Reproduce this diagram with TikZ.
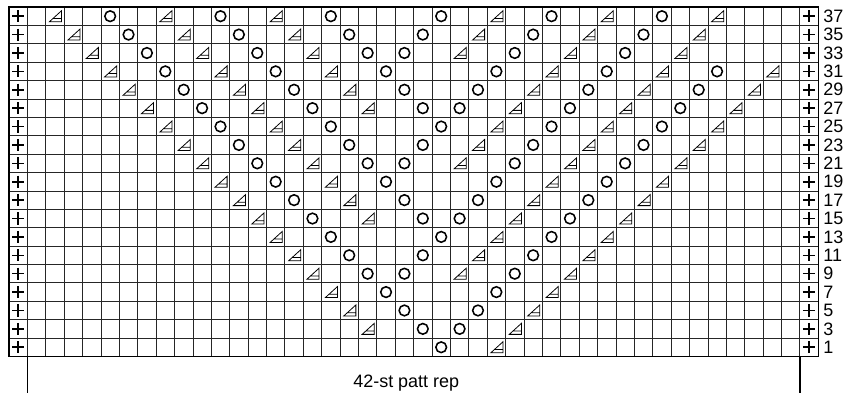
\documentclass[tikz,border=0pt]{standalone}
\usepackage{fontspec}
\setmainfont{Liberation Sans}
\usepackage{xcolor}
\usepackage{tikz}

\begin{document}
\begin{tikzpicture}[x=0.5cm,y=-0.5cm,font=\fontsize{13.9}{16}\selectfont,
  grid/.style={black!85,line width=0.6pt},
  frame/.style={black,line width=1.1pt},
  edge/.style={black,line width=1.2pt},
  yo/.style={black,line width=1.2pt},
  dec/.style={black,line width=0.6pt,line join=miter},
  num/.style={anchor=west,inner sep=0pt}]
\useasboundingbox (-0.489,-0.381) rectangle (45.89,21.04);
\draw[grid] (1,0) -- (1,19);
\draw[grid] (2,0) -- (2,19);
\draw[grid] (3,0) -- (3,19);
\draw[grid] (4,0) -- (4,19);
\draw[grid] (5,0) -- (5,19);
\draw[grid] (6,0) -- (6,19);
\draw[grid] (7,0) -- (7,19);
\draw[grid] (8,0) -- (8,19);
\draw[grid] (9,0) -- (9,19);
\draw[grid] (10,0) -- (10,19);
\draw[grid] (11,0) -- (11,19);
\draw[grid] (12,0) -- (12,19);
\draw[grid] (13,0) -- (13,19);
\draw[grid] (14,0) -- (14,19);
\draw[grid] (15,0) -- (15,19);
\draw[grid] (16,0) -- (16,19);
\draw[grid] (17,0) -- (17,19);
\draw[grid] (18,0) -- (18,19);
\draw[grid] (19,0) -- (19,19);
\draw[grid] (20,0) -- (20,19);
\draw[grid] (21,0) -- (21,19);
\draw[grid] (22,0) -- (22,19);
\draw[grid] (23,0) -- (23,19);
\draw[grid] (24,0) -- (24,19);
\draw[grid] (25,0) -- (25,19);
\draw[grid] (26,0) -- (26,19);
\draw[grid] (27,0) -- (27,19);
\draw[grid] (28,0) -- (28,19);
\draw[grid] (29,0) -- (29,19);
\draw[grid] (30,0) -- (30,19);
\draw[grid] (31,0) -- (31,19);
\draw[grid] (32,0) -- (32,19);
\draw[grid] (33,0) -- (33,19);
\draw[grid] (34,0) -- (34,19);
\draw[grid] (35,0) -- (35,19);
\draw[grid] (36,0) -- (36,19);
\draw[grid] (37,0) -- (37,19);
\draw[grid] (38,0) -- (38,19);
\draw[grid] (39,0) -- (39,19);
\draw[grid] (40,0) -- (40,19);
\draw[grid] (41,0) -- (41,19);
\draw[grid] (42,0) -- (42,19);
\draw[grid] (43,0) -- (43,19);
\draw[grid] (0,1) -- (44,1);
\draw[grid] (0,2) -- (44,2);
\draw[grid] (0,3) -- (44,3);
\draw[grid] (0,4) -- (44,4);
\draw[grid] (0,5) -- (44,5);
\draw[grid] (0,6) -- (44,6);
\draw[grid] (0,7) -- (44,7);
\draw[grid] (0,8) -- (44,8);
\draw[grid] (0,9) -- (44,9);
\draw[grid] (0,10) -- (44,10);
\draw[grid] (0,11) -- (44,11);
\draw[grid] (0,12) -- (44,12);
\draw[grid] (0,13) -- (44,13);
\draw[grid] (0,14) -- (44,14);
\draw[grid] (0,15) -- (44,15);
\draw[grid] (0,16) -- (44,16);
\draw[grid] (0,17) -- (44,17);
\draw[grid] (0,18) -- (44,18);
\draw[frame] (0,0) rectangle (44,19);
\draw[edge] (0.17,0.5) -- (0.83,0.5) (0.5,0.17) -- (0.5,0.83) (43.17,0.5) -- (43.83,0.5) (43.5,0.17) -- (43.5,0.83);
\draw[edge] (0.17,1.5) -- (0.83,1.5) (0.5,1.17) -- (0.5,1.83) (43.17,1.5) -- (43.83,1.5) (43.5,1.17) -- (43.5,1.83);
\draw[edge] (0.17,2.5) -- (0.83,2.5) (0.5,2.17) -- (0.5,2.83) (43.17,2.5) -- (43.83,2.5) (43.5,2.17) -- (43.5,2.83);
\draw[edge] (0.17,3.5) -- (0.83,3.5) (0.5,3.17) -- (0.5,3.83) (43.17,3.5) -- (43.83,3.5) (43.5,3.17) -- (43.5,3.83);
\draw[edge] (0.17,4.5) -- (0.83,4.5) (0.5,4.17) -- (0.5,4.83) (43.17,4.5) -- (43.83,4.5) (43.5,4.17) -- (43.5,4.83);
\draw[edge] (0.17,5.5) -- (0.83,5.5) (0.5,5.17) -- (0.5,5.83) (43.17,5.5) -- (43.83,5.5) (43.5,5.17) -- (43.5,5.83);
\draw[edge] (0.17,6.5) -- (0.83,6.5) (0.5,6.17) -- (0.5,6.83) (43.17,6.5) -- (43.83,6.5) (43.5,6.17) -- (43.5,6.83);
\draw[edge] (0.17,7.5) -- (0.83,7.5) (0.5,7.17) -- (0.5,7.83) (43.17,7.5) -- (43.83,7.5) (43.5,7.17) -- (43.5,7.83);
\draw[edge] (0.17,8.5) -- (0.83,8.5) (0.5,8.17) -- (0.5,8.83) (43.17,8.5) -- (43.83,8.5) (43.5,8.17) -- (43.5,8.83);
\draw[edge] (0.17,9.5) -- (0.83,9.5) (0.5,9.17) -- (0.5,9.83) (43.17,9.5) -- (43.83,9.5) (43.5,9.17) -- (43.5,9.83);
\draw[edge] (0.17,10.5) -- (0.83,10.5) (0.5,10.17) -- (0.5,10.83) (43.17,10.5) -- (43.83,10.5) (43.5,10.17) -- (43.5,10.83);
\draw[edge] (0.17,11.5) -- (0.83,11.5) (0.5,11.17) -- (0.5,11.83) (43.17,11.5) -- (43.83,11.5) (43.5,11.17) -- (43.5,11.83);
\draw[edge] (0.17,12.5) -- (0.83,12.5) (0.5,12.17) -- (0.5,12.83) (43.17,12.5) -- (43.83,12.5) (43.5,12.17) -- (43.5,12.83);
\draw[edge] (0.17,13.5) -- (0.83,13.5) (0.5,13.17) -- (0.5,13.83) (43.17,13.5) -- (43.83,13.5) (43.5,13.17) -- (43.5,13.83);
\draw[edge] (0.17,14.5) -- (0.83,14.5) (0.5,14.17) -- (0.5,14.83) (43.17,14.5) -- (43.83,14.5) (43.5,14.17) -- (43.5,14.83);
\draw[edge] (0.17,15.5) -- (0.83,15.5) (0.5,15.17) -- (0.5,15.83) (43.17,15.5) -- (43.83,15.5) (43.5,15.17) -- (43.5,15.83);
\draw[edge] (0.17,16.5) -- (0.83,16.5) (0.5,16.17) -- (0.5,16.83) (43.17,16.5) -- (43.83,16.5) (43.5,16.17) -- (43.5,16.83);
\draw[edge] (0.17,17.5) -- (0.83,17.5) (0.5,17.17) -- (0.5,17.83) (43.17,17.5) -- (43.83,17.5) (43.5,17.17) -- (43.5,17.83);
\draw[edge] (0.17,18.5) -- (0.83,18.5) (0.5,18.17) -- (0.5,18.83) (43.17,18.5) -- (43.83,18.5) (43.5,18.17) -- (43.5,18.83);
\draw[yo] (5.5,0.5) circle (1.45mm) (11.5,0.5) circle (1.45mm) (17.5,0.5) circle (1.45mm) (23.5,0.5) circle (1.45mm) (29.5,0.5) circle (1.45mm) (35.5,0.5) circle (1.45mm);
\draw[yo] (6.5,1.5) circle (1.45mm) (12.5,1.5) circle (1.45mm) (18.5,1.5) circle (1.45mm) (22.5,1.5) circle (1.45mm) (28.5,1.5) circle (1.45mm) (34.5,1.5) circle (1.45mm);
\draw[yo] (7.5,2.5) circle (1.45mm) (13.5,2.5) circle (1.45mm) (19.5,2.5) circle (1.45mm) (21.5,2.5) circle (1.45mm) (27.5,2.5) circle (1.45mm) (33.5,2.5) circle (1.45mm);
\draw[yo] (8.5,3.5) circle (1.45mm) (14.5,3.5) circle (1.45mm) (20.5,3.5) circle (1.45mm) (26.5,3.5) circle (1.45mm) (32.5,3.5) circle (1.45mm) (38.5,3.5) circle (1.45mm);
\draw[yo] (9.5,4.5) circle (1.45mm) (15.5,4.5) circle (1.45mm) (21.5,4.5) circle (1.45mm) (25.5,4.5) circle (1.45mm) (31.5,4.5) circle (1.45mm) (37.5,4.5) circle (1.45mm);
\draw[yo] (10.5,5.5) circle (1.45mm) (16.5,5.5) circle (1.45mm) (22.5,5.5) circle (1.45mm) (24.5,5.5) circle (1.45mm) (30.5,5.5) circle (1.45mm) (36.5,5.5) circle (1.45mm);
\draw[yo] (11.5,6.5) circle (1.45mm) (17.5,6.5) circle (1.45mm) (23.5,6.5) circle (1.45mm) (29.5,6.5) circle (1.45mm) (35.5,6.5) circle (1.45mm);
\draw[yo] (12.5,7.5) circle (1.45mm) (18.5,7.5) circle (1.45mm) (22.5,7.5) circle (1.45mm) (28.5,7.5) circle (1.45mm) (34.5,7.5) circle (1.45mm);
\draw[yo] (13.5,8.5) circle (1.45mm) (19.5,8.5) circle (1.45mm) (21.5,8.5) circle (1.45mm) (27.5,8.5) circle (1.45mm) (33.5,8.5) circle (1.45mm);
\draw[yo] (14.5,9.5) circle (1.45mm) (20.5,9.5) circle (1.45mm) (26.5,9.5) circle (1.45mm) (32.5,9.5) circle (1.45mm);
\draw[yo] (15.5,10.5) circle (1.45mm) (21.5,10.5) circle (1.45mm) (25.5,10.5) circle (1.45mm) (31.5,10.5) circle (1.45mm);
\draw[yo] (16.5,11.5) circle (1.45mm) (22.5,11.5) circle (1.45mm) (24.5,11.5) circle (1.45mm) (30.5,11.5) circle (1.45mm);
\draw[yo] (17.5,12.5) circle (1.45mm) (23.5,12.5) circle (1.45mm) (29.5,12.5) circle (1.45mm);
\draw[yo] (18.5,13.5) circle (1.45mm) (22.5,13.5) circle (1.45mm) (28.5,13.5) circle (1.45mm);
\draw[yo] (19.5,14.5) circle (1.45mm) (21.5,14.5) circle (1.45mm) (27.5,14.5) circle (1.45mm);
\draw[yo] (20.5,15.5) circle (1.45mm) (26.5,15.5) circle (1.45mm);
\draw[yo] (21.5,16.5) circle (1.45mm) (25.5,16.5) circle (1.45mm);
\draw[yo] (22.5,17.5) circle (1.45mm) (24.5,17.5) circle (1.45mm);
\draw[yo] (23.5,18.5) circle (1.45mm);
\draw[dec,shift={(2,0)}] (0.2,0.8) -- (0.86,0.8) -- (0.86,0.2) -- cycle (0.4,0.62) -- (0.86,0.62);
\draw[dec,shift={(8,0)}] (0.2,0.8) -- (0.86,0.8) -- (0.86,0.2) -- cycle (0.4,0.62) -- (0.86,0.62);
\draw[dec,shift={(14,0)}] (0.2,0.8) -- (0.86,0.8) -- (0.86,0.2) -- cycle (0.4,0.62) -- (0.86,0.62);
\draw[dec,shift={(26,0)}] (0.2,0.8) -- (0.86,0.8) -- (0.86,0.2) -- cycle (0.4,0.62) -- (0.86,0.62);
\draw[dec,shift={(32,0)}] (0.2,0.8) -- (0.86,0.8) -- (0.86,0.2) -- cycle (0.4,0.62) -- (0.86,0.62);
\draw[dec,shift={(38,0)}] (0.2,0.8) -- (0.86,0.8) -- (0.86,0.2) -- cycle (0.4,0.62) -- (0.86,0.62);
\draw[dec,shift={(3,1)}] (0.2,0.8) -- (0.86,0.8) -- (0.86,0.2) -- cycle (0.4,0.62) -- (0.86,0.62);
\draw[dec,shift={(9,1)}] (0.2,0.8) -- (0.86,0.8) -- (0.86,0.2) -- cycle (0.4,0.62) -- (0.86,0.62);
\draw[dec,shift={(15,1)}] (0.2,0.8) -- (0.86,0.8) -- (0.86,0.2) -- cycle (0.4,0.62) -- (0.86,0.62);
\draw[dec,shift={(25,1)}] (0.2,0.8) -- (0.86,0.8) -- (0.86,0.2) -- cycle (0.4,0.62) -- (0.86,0.62);
\draw[dec,shift={(31,1)}] (0.2,0.8) -- (0.86,0.8) -- (0.86,0.2) -- cycle (0.4,0.62) -- (0.86,0.62);
\draw[dec,shift={(37,1)}] (0.2,0.8) -- (0.86,0.8) -- (0.86,0.2) -- cycle (0.4,0.62) -- (0.86,0.62);
\draw[dec,shift={(4,2)}] (0.2,0.8) -- (0.86,0.8) -- (0.86,0.2) -- cycle (0.4,0.62) -- (0.86,0.62);
\draw[dec,shift={(10,2)}] (0.2,0.8) -- (0.86,0.8) -- (0.86,0.2) -- cycle (0.4,0.62) -- (0.86,0.62);
\draw[dec,shift={(16,2)}] (0.2,0.8) -- (0.86,0.8) -- (0.86,0.2) -- cycle (0.4,0.62) -- (0.86,0.62);
\draw[dec,shift={(24,2)}] (0.2,0.8) -- (0.86,0.8) -- (0.86,0.2) -- cycle (0.4,0.62) -- (0.86,0.62);
\draw[dec,shift={(30,2)}] (0.2,0.8) -- (0.86,0.8) -- (0.86,0.2) -- cycle (0.4,0.62) -- (0.86,0.62);
\draw[dec,shift={(36,2)}] (0.2,0.8) -- (0.86,0.8) -- (0.86,0.2) -- cycle (0.4,0.62) -- (0.86,0.62);
\draw[dec,shift={(5,3)}] (0.2,0.8) -- (0.86,0.8) -- (0.86,0.2) -- cycle (0.4,0.62) -- (0.86,0.62);
\draw[dec,shift={(11,3)}] (0.2,0.8) -- (0.86,0.8) -- (0.86,0.2) -- cycle (0.4,0.62) -- (0.86,0.62);
\draw[dec,shift={(17,3)}] (0.2,0.8) -- (0.86,0.8) -- (0.86,0.2) -- cycle (0.4,0.62) -- (0.86,0.62);
\draw[dec,shift={(29,3)}] (0.2,0.8) -- (0.86,0.8) -- (0.86,0.2) -- cycle (0.4,0.62) -- (0.86,0.62);
\draw[dec,shift={(35,3)}] (0.2,0.8) -- (0.86,0.8) -- (0.86,0.2) -- cycle (0.4,0.62) -- (0.86,0.62);
\draw[dec,shift={(41,3)}] (0.2,0.8) -- (0.86,0.8) -- (0.86,0.2) -- cycle (0.4,0.62) -- (0.86,0.62);
\draw[dec,shift={(6,4)}] (0.2,0.8) -- (0.86,0.8) -- (0.86,0.2) -- cycle (0.4,0.62) -- (0.86,0.62);
\draw[dec,shift={(12,4)}] (0.2,0.8) -- (0.86,0.8) -- (0.86,0.2) -- cycle (0.4,0.62) -- (0.86,0.62);
\draw[dec,shift={(18,4)}] (0.2,0.8) -- (0.86,0.8) -- (0.86,0.2) -- cycle (0.4,0.62) -- (0.86,0.62);
\draw[dec,shift={(28,4)}] (0.2,0.8) -- (0.86,0.8) -- (0.86,0.2) -- cycle (0.4,0.62) -- (0.86,0.62);
\draw[dec,shift={(34,4)}] (0.2,0.8) -- (0.86,0.8) -- (0.86,0.2) -- cycle (0.4,0.62) -- (0.86,0.62);
\draw[dec,shift={(40,4)}] (0.2,0.8) -- (0.86,0.8) -- (0.86,0.2) -- cycle (0.4,0.62) -- (0.86,0.62);
\draw[dec,shift={(7,5)}] (0.2,0.8) -- (0.86,0.8) -- (0.86,0.2) -- cycle (0.4,0.62) -- (0.86,0.62);
\draw[dec,shift={(13,5)}] (0.2,0.8) -- (0.86,0.8) -- (0.86,0.2) -- cycle (0.4,0.62) -- (0.86,0.62);
\draw[dec,shift={(19,5)}] (0.2,0.8) -- (0.86,0.8) -- (0.86,0.2) -- cycle (0.4,0.62) -- (0.86,0.62);
\draw[dec,shift={(27,5)}] (0.2,0.8) -- (0.86,0.8) -- (0.86,0.2) -- cycle (0.4,0.62) -- (0.86,0.62);
\draw[dec,shift={(33,5)}] (0.2,0.8) -- (0.86,0.8) -- (0.86,0.2) -- cycle (0.4,0.62) -- (0.86,0.62);
\draw[dec,shift={(39,5)}] (0.2,0.8) -- (0.86,0.8) -- (0.86,0.2) -- cycle (0.4,0.62) -- (0.86,0.62);
\draw[dec,shift={(8,6)}] (0.2,0.8) -- (0.86,0.8) -- (0.86,0.2) -- cycle (0.4,0.62) -- (0.86,0.62);
\draw[dec,shift={(14,6)}] (0.2,0.8) -- (0.86,0.8) -- (0.86,0.2) -- cycle (0.4,0.62) -- (0.86,0.62);
\draw[dec,shift={(26,6)}] (0.2,0.8) -- (0.86,0.8) -- (0.86,0.2) -- cycle (0.4,0.62) -- (0.86,0.62);
\draw[dec,shift={(32,6)}] (0.2,0.8) -- (0.86,0.8) -- (0.86,0.2) -- cycle (0.4,0.62) -- (0.86,0.62);
\draw[dec,shift={(38,6)}] (0.2,0.8) -- (0.86,0.8) -- (0.86,0.2) -- cycle (0.4,0.62) -- (0.86,0.62);
\draw[dec,shift={(9,7)}] (0.2,0.8) -- (0.86,0.8) -- (0.86,0.2) -- cycle (0.4,0.62) -- (0.86,0.62);
\draw[dec,shift={(15,7)}] (0.2,0.8) -- (0.86,0.8) -- (0.86,0.2) -- cycle (0.4,0.62) -- (0.86,0.62);
\draw[dec,shift={(25,7)}] (0.2,0.8) -- (0.86,0.8) -- (0.86,0.2) -- cycle (0.4,0.62) -- (0.86,0.62);
\draw[dec,shift={(31,7)}] (0.2,0.8) -- (0.86,0.8) -- (0.86,0.2) -- cycle (0.4,0.62) -- (0.86,0.62);
\draw[dec,shift={(37,7)}] (0.2,0.8) -- (0.86,0.8) -- (0.86,0.2) -- cycle (0.4,0.62) -- (0.86,0.62);
\draw[dec,shift={(10,8)}] (0.2,0.8) -- (0.86,0.8) -- (0.86,0.2) -- cycle (0.4,0.62) -- (0.86,0.62);
\draw[dec,shift={(16,8)}] (0.2,0.8) -- (0.86,0.8) -- (0.86,0.2) -- cycle (0.4,0.62) -- (0.86,0.62);
\draw[dec,shift={(24,8)}] (0.2,0.8) -- (0.86,0.8) -- (0.86,0.2) -- cycle (0.4,0.62) -- (0.86,0.62);
\draw[dec,shift={(30,8)}] (0.2,0.8) -- (0.86,0.8) -- (0.86,0.2) -- cycle (0.4,0.62) -- (0.86,0.62);
\draw[dec,shift={(36,8)}] (0.2,0.8) -- (0.86,0.8) -- (0.86,0.2) -- cycle (0.4,0.62) -- (0.86,0.62);
\draw[dec,shift={(11,9)}] (0.2,0.8) -- (0.86,0.8) -- (0.86,0.2) -- cycle (0.4,0.62) -- (0.86,0.62);
\draw[dec,shift={(17,9)}] (0.2,0.8) -- (0.86,0.8) -- (0.86,0.2) -- cycle (0.4,0.62) -- (0.86,0.62);
\draw[dec,shift={(29,9)}] (0.2,0.8) -- (0.86,0.8) -- (0.86,0.2) -- cycle (0.4,0.62) -- (0.86,0.62);
\draw[dec,shift={(35,9)}] (0.2,0.8) -- (0.86,0.8) -- (0.86,0.2) -- cycle (0.4,0.62) -- (0.86,0.62);
\draw[dec,shift={(12,10)}] (0.2,0.8) -- (0.86,0.8) -- (0.86,0.2) -- cycle (0.4,0.62) -- (0.86,0.62);
\draw[dec,shift={(18,10)}] (0.2,0.8) -- (0.86,0.8) -- (0.86,0.2) -- cycle (0.4,0.62) -- (0.86,0.62);
\draw[dec,shift={(28,10)}] (0.2,0.8) -- (0.86,0.8) -- (0.86,0.2) -- cycle (0.4,0.62) -- (0.86,0.62);
\draw[dec,shift={(34,10)}] (0.2,0.8) -- (0.86,0.8) -- (0.86,0.2) -- cycle (0.4,0.62) -- (0.86,0.62);
\draw[dec,shift={(13,11)}] (0.2,0.8) -- (0.86,0.8) -- (0.86,0.2) -- cycle (0.4,0.62) -- (0.86,0.62);
\draw[dec,shift={(19,11)}] (0.2,0.8) -- (0.86,0.8) -- (0.86,0.2) -- cycle (0.4,0.62) -- (0.86,0.62);
\draw[dec,shift={(27,11)}] (0.2,0.8) -- (0.86,0.8) -- (0.86,0.2) -- cycle (0.4,0.62) -- (0.86,0.62);
\draw[dec,shift={(33,11)}] (0.2,0.8) -- (0.86,0.8) -- (0.86,0.2) -- cycle (0.4,0.62) -- (0.86,0.62);
\draw[dec,shift={(14,12)}] (0.2,0.8) -- (0.86,0.8) -- (0.86,0.2) -- cycle (0.4,0.62) -- (0.86,0.62);
\draw[dec,shift={(26,12)}] (0.2,0.8) -- (0.86,0.8) -- (0.86,0.2) -- cycle (0.4,0.62) -- (0.86,0.62);
\draw[dec,shift={(32,12)}] (0.2,0.8) -- (0.86,0.8) -- (0.86,0.2) -- cycle (0.4,0.62) -- (0.86,0.62);
\draw[dec,shift={(15,13)}] (0.2,0.8) -- (0.86,0.8) -- (0.86,0.2) -- cycle (0.4,0.62) -- (0.86,0.62);
\draw[dec,shift={(25,13)}] (0.2,0.8) -- (0.86,0.8) -- (0.86,0.2) -- cycle (0.4,0.62) -- (0.86,0.62);
\draw[dec,shift={(31,13)}] (0.2,0.8) -- (0.86,0.8) -- (0.86,0.2) -- cycle (0.4,0.62) -- (0.86,0.62);
\draw[dec,shift={(16,14)}] (0.2,0.8) -- (0.86,0.8) -- (0.86,0.2) -- cycle (0.4,0.62) -- (0.86,0.62);
\draw[dec,shift={(24,14)}] (0.2,0.8) -- (0.86,0.8) -- (0.86,0.2) -- cycle (0.4,0.62) -- (0.86,0.62);
\draw[dec,shift={(30,14)}] (0.2,0.8) -- (0.86,0.8) -- (0.86,0.2) -- cycle (0.4,0.62) -- (0.86,0.62);
\draw[dec,shift={(17,15)}] (0.2,0.8) -- (0.86,0.8) -- (0.86,0.2) -- cycle (0.4,0.62) -- (0.86,0.62);
\draw[dec,shift={(29,15)}] (0.2,0.8) -- (0.86,0.8) -- (0.86,0.2) -- cycle (0.4,0.62) -- (0.86,0.62);
\draw[dec,shift={(18,16)}] (0.2,0.8) -- (0.86,0.8) -- (0.86,0.2) -- cycle (0.4,0.62) -- (0.86,0.62);
\draw[dec,shift={(28,16)}] (0.2,0.8) -- (0.86,0.8) -- (0.86,0.2) -- cycle (0.4,0.62) -- (0.86,0.62);
\draw[dec,shift={(19,17)}] (0.2,0.8) -- (0.86,0.8) -- (0.86,0.2) -- cycle (0.4,0.62) -- (0.86,0.62);
\draw[dec,shift={(27,17)}] (0.2,0.8) -- (0.86,0.8) -- (0.86,0.2) -- cycle (0.4,0.62) -- (0.86,0.62);
\draw[dec,shift={(26,18)}] (0.2,0.8) -- (0.86,0.8) -- (0.86,0.2) -- cycle (0.4,0.62) -- (0.86,0.62);
\node[num] (r37) at (44.27,0.5) {37};
\node[num] (r35) at (44.27,1.5) {35};
\node[num] (r33) at (44.27,2.5) {33};
\node[num] (r31) at (44.27,3.5) {31};
\node[num] (r29) at (44.27,4.5) {29};
\node[num] (r27) at (44.27,5.5) {27};
\node[num] (r25) at (44.27,6.5) {25};
\node[num] (r23) at (44.27,7.5) {23};
\node[num] (r21) at (44.27,8.5) {21};
\node[num] (r19) at (44.27,9.5) {19};
\node[num] (r17) at (44.27,10.5) {17};
\node[num] (r15) at (44.27,11.5) {15};
\node[num] (r13) at (44.27,12.5) {13};
\node[num] (r11) at (44.27,13.5) {11};
\node[num] (r9) at (44.27,14.5) {9};
\node[num] (r7) at (44.27,15.5) {7};
\node[num] (r5) at (44.27,16.5) {5};
\node[num] (r3) at (44.27,17.5) {3};
\node[num] (r1) at (44.27,18.5) {1};
\draw[frame] (1,19) -- (1,21);
\draw[frame] (43,19) -- (43,21);
\node (rep) at (21.6,20.45) {42-st patt rep};
\end{tikzpicture}
\end{document}
